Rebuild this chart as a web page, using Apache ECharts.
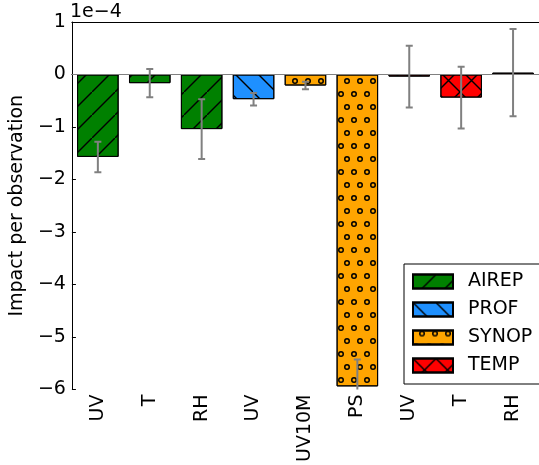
<!DOCTYPE html>
<html>
<head>
<meta charset="utf-8">
<script src="https://cdn.jsdelivr.net/npm/echarts@6/dist/echarts.min.js"></script>
<style>
  html, body { margin: 0; padding: 0; background: #fff; }
  #chart { width: 539px; height: 465px; }
</style>
</head>
<body>
<div id="chart"></div>
<script>
// Mean impact per observation (units of 1e-4) by observation type and variable
const obsTypes = ['AIREP', 'PROF', 'SYNOP', 'TEMP'];
const barObsType = ['AIREP', 'AIREP', 'AIREP', 'PROF', 'SYNOP', 'SYNOP', 'TEMP', 'TEMP', 'TEMP'];
const variables = ['UV', 'T', 'RH', 'UV', 'UV10M', 'PS', 'UV', 'T', 'RH'];
const impact = [-1.57, -0.165, -1.04, -0.47, -0.21, -5.94, -0.04, -0.44, 0.035];
const impactErr = [0.29, 0.27, 0.57, 0.12, 0.07, 0.51, 0.59, 0.59, 0.83];
const yTicks = { min: -6, max: 1, step: 1 };
const scaleLabel = '1e\u22124';

const FONT = 'DejaVu Sans';
const colors = { AIREP: '#008000', PROF: '#1e90ff', SYNOP: '#ffa500', TEMP: '#ff0000' };

// Hatch tiles drawn as filled paths (23px repeat)
const hatchNE = 'M0,22L22,0L23,0L23,1L1,23L0,23Z';
const hatchNW = 'M0,0L1,0L23,22L23,23L22,23L0,1Z';
const ring = 'M0,5A5,5,0,1,1,10,5A5,5,0,1,1,0,5ZM2.5,5A2.5,2.5,0,1,0,7.5,5A2.5,2.5,0,1,0,2.5,5Z';
const decals = {
  AIREP: { symbol: 'path://' + hatchNE, symbolSize: 1, dashArrayX: [23, 0], dashArrayY: [23, 0], color: '#000' },
  PROF: { symbol: 'path://' + hatchNW, symbolSize: 1, dashArrayX: [23, 0], dashArrayY: [23, 0], color: '#000' },
  SYNOP: { symbol: 'path://' + ring, symbolSize: 1, dashArrayX: [[6, 7], [0, 6, 6, 1]], dashArrayY: [6, 7], color: '#000' },
  TEMP: { symbol: 'path://' + hatchNE + hatchNW, symbolSize: 1, dashArrayX: [23, 0], dashArrayY: [23, 0], color: '#000' }
};

const categoryIdx = variables.map((_, i) => String(i));

const barSeries = obsTypes.map(name => ({
  name: name,
  type: 'bar',
  barWidth: '80%',
  barGap: '-100%',
  z: 3,
  data: impact.map((v, i) => barObsType[i] === name ? v : '-'),
  itemStyle: {
    color: colors[name],
    borderColor: '#000',
    borderWidth: 1,
    decal: decals[name]
  }
}));

const errData = impact.map((v, i) => [i, v, impactErr[i]]);

const chart = echarts.init(document.getElementById('chart'), null, { renderer: 'canvas' });
chart.setOption({
  animation: false,
  backgroundColor: '#fff',
  textStyle: { fontFamily: FONT },
  grid: { left: 70, right: -11, top: 22, bottom: 72 },
  xAxis: [
    {
      type: 'category',
      data: categoryIdx,
      position: 'bottom',
      axisLine: { lineStyle: { color: '#000', width: 1 } },
      axisTick: { inside: true, length: 4, alignWithLabel: true, lineStyle: { color: '#000' } },
      axisLabel: {
        rotate: 90, margin: 5, fontSize: 19, color: '#000', fontFamily: FONT,
        formatter: (val, idx) => variables[idx]
      },
      splitLine: { show: false }
    },
    {
      type: 'category',
      data: categoryIdx,
      position: 'top',
      axisLine: { lineStyle: { color: '#000', width: 1 } },
      axisTick: { inside: true, length: 4, alignWithLabel: true, lineStyle: { color: '#000' } },
      axisLabel: { show: false },
      splitLine: { show: false }
    }
  ],
  yAxis: {
    type: 'value',
    min: yTicks.min,
    max: yTicks.max,
    interval: yTicks.step,
    name: 'Impact per observation',
    nameLocation: 'middle',
    nameGap: 31,
    nameTextStyle: { fontSize: 19, color: '#000', fontFamily: FONT },
    axisLine: { show: true, lineStyle: { color: '#000', width: 1 } },
    axisTick: { show: true, inside: true, length: 4, lineStyle: { color: '#000' } },
    axisLabel: {
      margin: 6, fontSize: 19, color: '#000', fontFamily: FONT,
      formatter: v => (v < 0 ? '\u2212' + Math.abs(v) : String(v))
    },
    splitLine: { show: false }
  },
  legend: {
    orient: 'vertical',
    left: 404,
    top: 264,
    z: 10,
    data: obsTypes,
    icon: 'rect',
    itemWidth: 40,
    itemHeight: 14,
    itemGap: 9,
    padding: [8, 60, 9, 8],
    borderColor: '#000',
    borderWidth: 1,
    backgroundColor: '#fff',
    textStyle: { fontSize: 19, color: '#000', fontFamily: FONT, padding: [0, 0, 0, 10] }
  },
  graphic: [
    {
      type: 'text',
      left: 70,
      top: 3,
      style: { text: scaleLabel, fontSize: 19, fill: '#000', fontFamily: FONT }
    }
  ],
  series: [
    {
      name: 'zero',
      type: 'line',
      data: [],
      z: 1,
      silent: true,
      markLine: {
        silent: true,
        symbol: 'none',
        label: { show: false },
        lineStyle: { color: '#808080', width: 1, type: 'solid' },
        data: [{ yAxis: 0 }]
      }
    },
    ...barSeries,
    {
      name: 'error',
      type: 'custom',
      z: 5,
      clip: true,
      data: errData,
      encode: { x: 0, y: 1 },
      renderItem: (params, api) => {
        const i = api.value(0);
        const v = api.value(1);
        const e = api.value(2);
        const top = api.coord([i, v + e]);
        const bot = api.coord([i, v - e]);
        const cap = 3.5;
        const style = { stroke: '#808080', lineWidth: 2 };
        return {
          type: 'group',
          children: [
            { type: 'line', shape: { x1: top[0], y1: top[1], x2: bot[0], y2: bot[1] }, style: style },
            { type: 'line', shape: { x1: top[0] - cap, y1: top[1], x2: top[0] + cap, y2: top[1] }, style: style },
            { type: 'line', shape: { x1: bot[0] - cap, y1: bot[1], x2: bot[0] + cap, y2: bot[1] }, style: style }
          ]
        };
      }
    }
  ]
});
</script>
</body>
</html>
